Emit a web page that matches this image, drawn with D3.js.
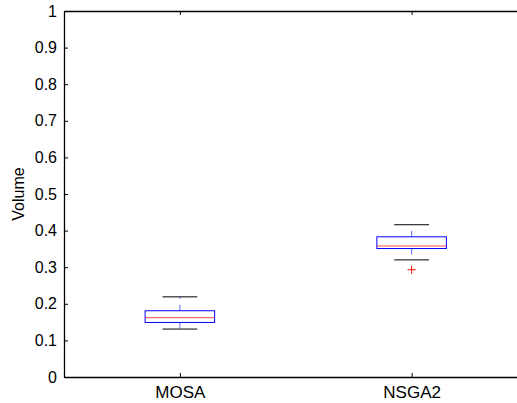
<!DOCTYPE html>
<html lang="en">
<head>
<meta charset="UTF-8">
<title>Volume boxplot</title>
<style>
    body { margin: 0; background: #fff; }
    svg { display: block; }
    .tick text { font-family: "Liberation Sans", Arial, Helvetica, sans-serif; }
</style>
</head>
<body>
<div id="chart"></div>
<script src="https://d3js.org/d3.v7.min.js"></script>
<script>
    // data
    const categories = ["MOSA", "NSGA2"];
    const lowerWhisker = [0.131, 0.320];
    const q1 = [0.149, 0.351];
    const median = [0.162, 0.358];
    const q3 = [0.181, 0.383];
    const upperWhisker = [0.219, 0.416];
    const outliers = [[], [0.293]];
    const yTicks = [0, 0.1, 0.2, 0.3, 0.4, 0.5, 0.6, 0.7, 0.8, 0.9, 1];

    const width = 517, height = 403;
    const plotLeft = 64, plotTop = 11, plotBottom = 377;

    const svg = d3.select("#chart").append("svg")
        .attr("width", width).attr("height", height);

    // positions 1..n, xlim [0.5, n+0.5] like matlab
    const x = d3.scaleLinear().domain([0.5, 2.5]).range([plotLeft, 527.5]);
    const y = d3.scaleLinear().domain([0, 1]).range([plotBottom, plotTop]);

    const font = "Liberation Sans, Arial, Helvetica, sans-serif";

    // y axis (ticks inward)
    const yAxis = svg.append("g")
        .attr("transform", `translate(${plotLeft},0)`)
        .call(d3.axisLeft(y).tickValues(yTicks).tickSizeInner(-4).tickSizeOuter(0)
            .tickPadding(7).tickFormat(d => d === 0 || d === 1 ? d3.format("d")(d) : d3.format(".1f")(d)));
    yAxis.selectAll("text").attr("font-size", 16).attr("fill", "#000");
    yAxis.selectAll(".tick line").attr("stroke", "#000");
    yAxis.select(".domain").attr("stroke", "#000").attr("stroke-width", 1.3);

    // bottom axis
    const xAxis = svg.append("g")
        .attr("transform", `translate(0,${plotBottom})`)
        .call(d3.axisBottom(x).tickValues([1, 2]).tickSizeInner(-4).tickSizeOuter(0)
            .tickPadding(9).tickFormat((d, i) => categories[i]));
    xAxis.selectAll("text").attr("font-size", 17).attr("fill", "#000");
    xAxis.selectAll(".tick line").attr("stroke", "#000");
    xAxis.select(".domain").attr("stroke", "#000").attr("stroke-width", 1.3);

    // top axis, no labels
    const topAxis = svg.append("g")
        .attr("transform", `translate(0,${plotTop})`)
        .call(d3.axisTop(x).tickValues([1, 2]).tickSizeInner(-4).tickSizeOuter(0).tickFormat(""));
    topAxis.selectAll(".tick line").attr("stroke", "#000");
    topAxis.select(".domain").attr("stroke", "#000").attr("stroke-width", 1.3);

    svg.append("text")
        .attr("transform", `translate(24,${(plotTop + plotBottom) / 2}) rotate(-90)`)
        .attr("text-anchor", "middle")
        .attr("font-family", font)
        .attr("font-size", 16)
        .text("Volume");

    const boxW = 0.3, capW = 0.15;

    const g = svg.append("g");
    categories.forEach((c, i) => {
        const pos = i + 1;
        // whiskers
        g.append("line")
            .attr("x1", x(pos)).attr("x2", x(pos))
            .attr("y1", y(q3[i])).attr("y2", y(upperWhisker[i]))
            .attr("stroke", "#0000ff").attr("stroke-opacity", 0.6)
            .attr("stroke-dasharray", "6,6");
        g.append("line")
            .attr("x1", x(pos)).attr("x2", x(pos))
            .attr("y1", y(q1[i])).attr("y2", y(lowerWhisker[i]))
            .attr("stroke", "#0000ff").attr("stroke-opacity", 0.6)
            .attr("stroke-dasharray", "6,6");
        // caps
        [upperWhisker[i], lowerWhisker[i]].forEach(v => {
            g.append("line")
                .attr("x1", x(pos - capW / 2)).attr("x2", x(pos + capW / 2))
                .attr("y1", y(v)).attr("y2", y(v))
                .attr("stroke", "#000");
        });
        // box
        g.append("rect")
            .attr("x", x(pos - boxW / 2))
            .attr("y", y(q3[i]))
            .attr("width", x(pos + boxW / 2) - x(pos - boxW / 2))
            .attr("height", y(q1[i]) - y(q3[i]))
            .attr("fill", "none")
            .attr("stroke", "#0000ff");
        // median
        g.append("line")
            .attr("x1", x(pos - boxW / 2)).attr("x2", x(pos + boxW / 2))
            .attr("y1", y(median[i])).attr("y2", y(median[i]))
            .attr("stroke", "#ff0000").attr("stroke-opacity", 0.7);
        // outliers
        outliers[i].forEach(v => {
            g.append("path")
                .attr("d", `M${x(pos) - 4},${y(v)}h8M${x(pos)},${y(v) - 4}v8`)
                .attr("stroke", "#ff0000");
        });
    });
</script>
</body>
</html>
